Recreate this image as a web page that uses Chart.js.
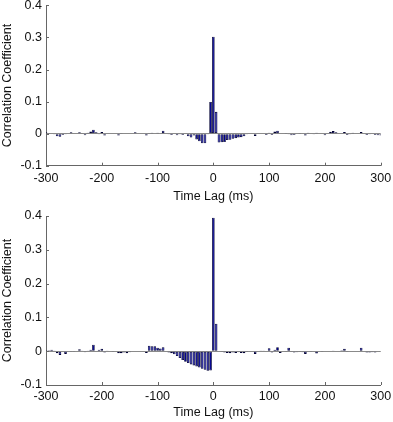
<!DOCTYPE html>
<html>
<head>
<meta charset="utf-8">
<script src="https://cdn.jsdelivr.net/npm/chart.js@4/dist/chart.umd.min.js"></script>
<style>
body { margin: 0; background: #fff; width: 393px; height: 422px; position: relative; overflow: hidden; }
canvas { position: absolute; left: 0; }
#top { top: 0; }
#bottom { top: 210px; }
</style>
</head>
<body>
<canvas id="top" width="393" height="205"></canvas>
<canvas id="bottom" width="393" height="212"></canvas>
<script>
// bin centres (ms)
const lags = [
  -300, -295, -290, -285, -280, -275, -270, -265, -260, -255,
  -250, -245, -240, -235, -230, -225, -220, -215, -210, -205,
  -200, -195, -190, -185, -180, -175, -170, -165, -160, -155,
  -150, -145, -140, -135, -130, -125, -120, -115, -110, -105,
  -100, -95, -90, -85, -80, -75, -70, -65, -60, -55,
  -50, -45, -40, -35, -30, -25, -20, -15, -10, -5,
  0, 5, 10, 15, 20, 25, 30, 35, 40, 45,
  50, 55, 60, 65, 70, 75, 80, 85, 90, 95,
  100, 105, 110, 115, 120, 125, 130, 135, 140, 145,
  150, 155, 160, 165, 170, 175, 180, 185, 190, 195,
  200, 205, 210, 215, 220, 225, 230, 235, 240, 245,
  250, 255, 260, 265, 270, 275, 280, 285, 290, 295,
  300
];

// top panel
const corrTop = [
  0.004, 0.002, 0.000, -0.003, -0.008, -0.010, -0.004, -0.003, 0.001, 0.004,
  -0.002, 0.000, 0.004, 0.002, -0.005, 0.003, 0.007, 0.012, 0.004, -0.003,
  0.005, -0.006, -0.002, 0.001, 0.000, -0.002, -0.006, 0.002, 0.000, 0.001,
  -0.002, 0.000, 0.004, -0.002, 0.000, 0.001, -0.006, 0.002, 0.003, -0.002,
  0.003, 0.001, 0.009, -0.002, -0.003, -0.004, -0.002, -0.005, -0.003, -0.004,
  0.000, -0.008, -0.012, -0.006, -0.018, -0.024, -0.030, -0.030, -0.003, 0.099,
  0.302, 0.068, -0.028, -0.027, -0.026, -0.020, -0.019, -0.016, -0.014, -0.012,
  -0.011, -0.008, -0.003, 0.000, -0.002, -0.007, 0.001, 0.000, 0.001, -0.004,
  0.003, -0.004, 0.007, 0.009, 0.001, 0.000, 0.002, -0.001, -0.005, -0.004,
  -0.002, 0.002, 0.000, -0.006, 0.003, 0.001, -0.003, 0.003, 0.000, 0.001,
  -0.005, 0.001, 0.006, 0.008, 0.004, 0.000, -0.002, 0.005, -0.004, -0.003,
  0.003, 0.000, -0.002, 0.005, 0.001, -0.004, -0.003, -0.002, -0.004, -0.005,
  -0.006
];

// bottom panel
const corrBottom = [
  0.003, 0.003, 0.004, 0.002, -0.006, -0.011, 0.000, -0.008, 0.000, -0.002,
  -0.001, 0.000, 0.006, 0.002, -0.003, 0.002, 0.004, 0.019, 0.001, 0.004,
  0.007, -0.004, 0.002, 0.000, -0.001, 0.000, -0.006, -0.006, -0.004, -0.006,
  -0.003, 0.001, 0.000, 0.001, 0.000, 0.000, -0.005, 0.016, 0.015, 0.015,
  0.010, 0.008, 0.012, 0.001, -0.004, -0.006, -0.009, -0.014, -0.020, -0.026,
  -0.031, -0.035, -0.039, -0.042, -0.045, -0.048, -0.052, -0.055, -0.058, -0.057,
  0.395, 0.081, 0.000, -0.002, -0.004, -0.005, -0.006, -0.004, -0.005, -0.003,
  -0.005, -0.006, -0.002, 0.000, 0.000, -0.008, 0.000, 0.002, 0.002, 0.000,
  0.009, -0.004, 0.004, 0.012, -0.005, 0.000, -0.002, 0.010, -0.002, -0.004,
  -0.003, -0.002, -0.003, -0.008, 0.000, -0.002, 0.000, -0.007, 0.000, -0.001,
  0.000, 0.001, 0.000, 0.002, 0.000, 0.001, 0.003, 0.007, -0.001, 0.000,
  0.000, 0.000, 0.000, 0.010, 0.000, -0.004, -0.004, -0.003, -0.004, 0.000,
  -0.002
];

const xTitle = 'Time Lag (ms)';
const yTitle = 'Correlation Coefficient';

const FONT = { family: '"Liberation Sans", Arial, sans-serif', size: 12.5 };
const AXIS = '#666';

// MATLAB style: short ticks pointing into the plot
const inwardTicks = {
  id: 'inwardTicks',
  afterDatasetsDraw(chart) {
    const { ctx, chartArea, scales: { x, y } } = chart;
    ctx.save();
    ctx.strokeStyle = AXIS;
    ctx.lineWidth = 1;
    ctx.beginPath();
    x.ticks.forEach(t => {
      const px = Math.round(x.getPixelForValue(t.value)) + 0.5;
      ctx.moveTo(px, chartArea.bottom);
      ctx.lineTo(px, chartArea.bottom - 3);
    });
    y.ticks.forEach(t => {
      const py = Math.round(y.getPixelForValue(t.value)) + 0.5;
      ctx.moveTo(chartArea.left, py);
      ctx.lineTo(chartArea.left + 3, py);
    });
    ctx.stroke();
    ctx.restore();
  }
};

function makeChart(id, values, o) {
  return new Chart(document.getElementById(id), {
    type: 'bar',
    data: {
      datasets: [{
        data: lags.map((l, i) => ({ x: l, y: values[i] })),
        backgroundColor: '#00008f',
        borderColor: '#000033',
        borderWidth: 0.8,
        borderSkipped: false,
        barPercentage: 0.95,
        categoryPercentage: 1
      }]
    },
    options: {
      responsive: false,
      animation: false,
      devicePixelRatio: 1,
      layout: { padding: { left: 0, top: o.top, right: 12.3, bottom: 0 } },
      plugins: { legend: { display: false }, tooltip: { enabled: false } },
      scales: {
        x: {
          type: 'linear',
          min: -300, max: 300,
          offset: false,
          ticks: { stepSize: 100, color: '#111', font: FONT, padding: o.tickPad, maxRotation: 0 },
          grid: { drawOnChartArea: false, drawTicks: false, offset: false },
          border: { display: true, color: AXIS, width: 1 },
          title: { display: true, text: xTitle, color: '#111', font: FONT, padding: { top: 0, bottom: o.titlePad } },
          afterFit(s) { s.height = o.xh; s.paddingLeft = 0; s.paddingRight = 0; }
        },
        y: {
          min: -0.1, max: 0.4,
          ticks: { stepSize: 0.1, color: '#111', font: FONT, padding: 4,
                   callback: v => String(+v.toFixed(1)) },
          grid: {
            drawTicks: false,
            color: c => (c.tick && Math.abs(c.tick.value) < 1e-9) ? '#8a8a8a' : 'rgba(0,0,0,0)'
          },
          border: { display: true, color: AXIS, width: 1 },
          title: { display: true, text: yTitle, color: '#111', font: FONT, padding: { top: 0.5, bottom: 0 } },
          afterFit(s) { s.width = 46; s.paddingTop = 0; s.paddingBottom = 0; }
        }
      }
    },
    plugins: [inwardTicks]
  });
}

makeChart('top', corrTop, { top: 5.4, xh: 39.3, tickPad: 5, titlePad: 0.5 });
makeChart('bottom', corrBottom, { top: 6, xh: 37, tickPad: 4.5, titlePad: 1.5 });
</script>
</body>
</html>
